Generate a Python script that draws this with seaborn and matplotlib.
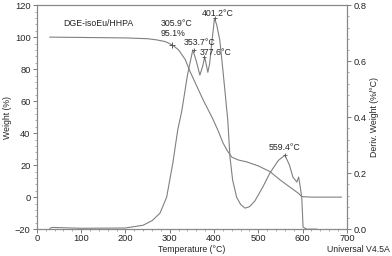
import pandas as pd
import seaborn as sns
import numpy as np
import matplotlib.pyplot as plt
from matplotlib.ticker import MultipleLocator, FormatStrFormatter

# weight curve (left axis)
temp_w = [29, 100, 200, 250, 270, 290, 306, 320, 335, 345, 360, 375, 397, 410, 420,
          430, 440, 455, 474, 500, 526, 548, 570, 590, 598, 620, 688]
weight = [100, 99.8, 99.5, 99.0, 98.3, 97.2, 95.1, 92, 86, 79, 70, 61, 49, 41, 34,
          29, 25, 23.2, 22, 19.5, 16, 11, 6.5, 2.5, 0.3, 0, 0]

# derivative curve (right axis)
temp_d = [29, 35, 100, 200, 240, 260, 278, 293, 307, 318, 327, 340, 352, 360, 368,
          374, 379, 386, 390, 396, 401, 406, 413, 420, 431, 436, 442, 451, 460, 470,
          480, 492, 510, 526, 545, 560, 570, 578, 587, 591, 594, 598, 601, 609, 632]
deriv = [0.003, 0.006, 0.003, 0.004, 0.014, 0.03, 0.057, 0.114, 0.236, 0.354, 0.42,
         0.55, 0.64, 0.6, 0.55, 0.58, 0.614, 0.56, 0.59, 0.68, 0.753, 0.73, 0.675,
         0.568, 0.39, 0.257, 0.175, 0.114, 0.088, 0.075, 0.08, 0.10, 0.15, 0.2, 0.245,
         0.264, 0.23, 0.186, 0.168, 0.186, 0.157, 0.114, 0.007, 0.0, 0.0]

onset = (305.9, 95.1)
peak_t = [353.7, 377.6, 401.2, 559.4]
peak_d = [0.64, 0.614, 0.753, 0.264]
# label positions (temperature, deriv) for the peak texts
lab_t = [368, 404, 408, 560]
lab_d = [0.668, 0.632, 0.771, 0.293]

dfw = pd.DataFrame({'T': temp_w, 'W': weight})
dfd = pd.DataFrame({'T': temp_d, 'D': deriv})

sns.set_style("ticks")
plt.rcParams['font.family'] = ['Liberation Sans', 'DejaVu Sans']
fs = 6.3
plt.rcParams['font.size'] = fs

line_c = '#808080'
fig = plt.figure(figsize=(3.92, 2.56), dpi=100)
ax = fig.add_axes([0.094, 0.105, 0.791, 0.875])
ax2 = ax.twinx()

sns.lineplot(x='T', y='W', data=dfw, ax=ax, color=line_c, lw=0.8)
sns.lineplot(x='T', y='D', data=dfd, ax=ax2, color=line_c, lw=0.8)
ax.plot([onset[0]], [onset[1]], marker='+', color='#555555', ms=5, mew=0.7)

ax.set_xlim(0, 700)
ax.set_ylim(-20, 120)
ax2.set_ylim(0, 0.8)
ax.xaxis.set_major_locator(MultipleLocator(100))
ax.xaxis.set_minor_locator(MultipleLocator(20))
ax.yaxis.set_major_locator(MultipleLocator(20))
ax.yaxis.set_minor_locator(MultipleLocator(4))
ax2.yaxis.set_major_locator(MultipleLocator(0.2))
ax2.yaxis.set_minor_locator(MultipleLocator(0.04))
ax2.yaxis.set_major_formatter(FormatStrFormatter('%.1f'))

for a in (ax, ax2):
    for s in a.spines.values():
        s.set_color('#888888')
        s.set_linewidth(0.8)
    a.tick_params(which='major', length=3, width=0.6, color='#666666', labelsize=fs + 0.4, pad=1.5)
    a.tick_params(which='minor', length=1.5, width=0.5, color='#888888')
ax.tick_params(axis='x', which='major', pad=0.5)

ax.set_xlabel('')
ax.set_ylabel('Weight (%)', fontsize=fs, labelpad=2)
ax2.set_ylabel('Deriv. Weight (%/°C)', fontsize=fs, labelpad=3)
fig.text(0.49, 1 - 249 / 256, 'Temperature (°C)', ha='center', va='center', fontsize=fs)
fig.text(0.995, 1 - 249 / 256, 'Universal V4.5A', ha='right', va='center', fontsize=fs)

ax.text(59, 108.75, 'DGE-isoEu/HHPA', fontsize=fs, va='center')
ax.text(280, 108.75, '%.1f°C' % onset[0], fontsize=fs, ha='left', va='center')
ax.text(280, 102.5, '%.1f%%' % onset[1], fontsize=fs, ha='left', va='center')
for t, d, lt, ld in zip(peak_t, peak_d, lab_t, lab_d):
    ax2.plot([t], [d], marker='+', color='#555555', ms=3, mew=0.6)
    ax2.text(lt, ld, '%.1f°C' % t, fontsize=fs, ha='center', va='center')

fig.savefig('out.png', dpi=100)
